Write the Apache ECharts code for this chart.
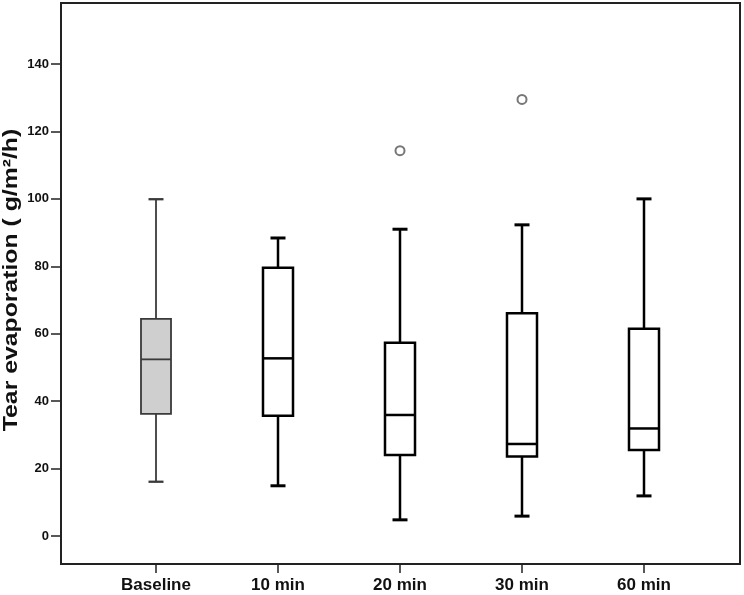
<!DOCTYPE html>
<html>
<head>
<meta charset="utf-8">
<script src="https://cdn.jsdelivr.net/npm/echarts@6/dist/echarts.min.js"></script>
<style>
html,body{margin:0;padding:0;background:#fff;}
#chart{width:744px;height:595px;}
</style>
</head>
<body>
<div id="chart"></div>
<script>
const categories = ['Baseline', '10 min', '20 min', '30 min', '60 min'];
const whiskerLow = [16.1, 14.9, 4.8, 5.9, 11.9];
const q1 = [36.2, 35.7, 24.0, 23.6, 25.5];
const median = [52.4, 52.7, 35.9, 27.3, 31.9];
const q3 = [64.4, 79.6, 57.3, 66.1, 61.5];
const whiskerHigh = [99.9, 88.4, 91.0, 92.3, 100.0];
const outlierCategory = ['20 min', '30 min'];
const outlierValue = [114.3, 129.5];
const yTicks = [0, 20, 40, 60, 80, 100, 120, 140];
const yTitle = 'Tear evaporation ( g/m\u00B2/h)';
const yMin = -8.3, yMax = 158.1;

const boxData = categories.map((c, i) => [i, whiskerLow[i], q1[i], median[i], q3[i], whiskerHigh[i]]);
const outlierData = outlierCategory.map((c, i) => [categories.indexOf(c), outlierValue[i]]);

function renderBox(params, api) {
  const x = api.value(0);
  const band = api.size([1, 0])[0];
  const bw = band * 0.246, cw = band * 0.123;
  const pLow = api.coord([x, api.value(1)]);
  const pQ1 = api.coord([x, api.value(2)]);
  const pMed = api.coord([x, api.value(3)]);
  const pQ3 = api.coord([x, api.value(4)]);
  const pHigh = api.coord([x, api.value(5)]);
  const cx = pMed[0];
  const isBase = params.dataIndex === 0;
  const stroke = isBase ? '#3a3a3a' : '#000';
  const lw = isBase ? 1.8 : 2.5;
  const ls = { stroke: stroke, lineWidth: lw };
  return {
    type: 'group',
    children: [
      { type: 'line', shape: { x1: cx, y1: pLow[1], x2: cx, y2: pQ1[1] }, style: ls },
      { type: 'line', shape: { x1: cx, y1: pQ3[1], x2: cx, y2: pHigh[1] }, style: ls },
      { type: 'line', shape: { x1: cx - cw / 2, y1: pLow[1], x2: cx + cw / 2, y2: pLow[1] }, style: { stroke: stroke, lineWidth: lw + 0.5 } },
      { type: 'line', shape: { x1: cx - cw / 2, y1: pHigh[1], x2: cx + cw / 2, y2: pHigh[1] }, style: { stroke: stroke, lineWidth: lw + 0.5 } },
      { type: 'rect', shape: { x: cx - bw / 2, y: pQ3[1], width: bw, height: pQ1[1] - pQ3[1] },
        style: { fill: isBase ? '#cfcfcf' : '#fff', stroke: stroke, lineWidth: lw } },
      { type: 'line', shape: { x1: cx - bw / 2, y1: pMed[1], x2: cx + bw / 2, y2: pMed[1] }, style: ls }
    ]
  };
}

const chart = echarts.init(document.getElementById('chart'), null, { renderer: 'canvas' });
chart.setOption({
  animation: false,
  backgroundColor: '#fff',
  grid: [
    { left: 61, right: 4, top: 3, bottom: 31, outerBoundsMode: 'none', containLabel: false,
      show: true, borderColor: '#222', borderWidth: 2, backgroundColor: 'transparent' },
    { left: 95, right: 39, top: 3, bottom: 31, outerBoundsMode: 'none', containLabel: false }
  ],
  xAxis: [
    { gridIndex: 0, type: 'value', show: false, min: 0, max: 1 },
    { gridIndex: 1, type: 'category', data: categories, position: 'bottom',
      axisLine: { show: false, onZero: false },
      axisTick: { show: true, alignWithLabel: true, length: 9, lineStyle: { color: '#222', width: 1.5 } },
      axisLabel: { margin: 13, fontFamily: 'Liberation Sans', fontWeight: 'bold', fontSize: 17, color: '#111' },
      splitLine: { show: false } }
  ],
  yAxis: [
    { gridIndex: 0, type: 'value', min: yMin, max: yMax,
      axisLine: { show: false, onZero: false },
      axisTick: { show: true, length: 10, customValues: yTicks, lineStyle: { color: '#222', width: 1.5 } },
      axisLabel: { margin: 12, customValues: yTicks, fontFamily: 'Liberation Sans', fontWeight: 'bold', fontSize: 13, color: '#111' },
      splitLine: { show: false } },
    { gridIndex: 1, type: 'value', min: yMin, max: yMax, show: false, splitLine: { show: false } }
  ],
  graphic: [
    { type: 'text', x: 11, y: 280, rotation: Math.PI / 2, scaleX: 1.18,
      style: { text: yTitle, fontFamily: 'Liberation Sans', fontWeight: 'bold', fontSize: 21, fill: '#111',
               align: 'center', verticalAlign: 'middle' } }
  ],
  series: [
    { type: 'custom', xAxisIndex: 1, yAxisIndex: 1, data: boxData, renderItem: renderBox,
      encode: { x: 0, y: [1, 2, 3, 4, 5] } },
    { type: 'scatter', xAxisIndex: 1, yAxisIndex: 1, data: outlierData, symbol: 'emptyCircle', symbolSize: 9,
      z: 5, itemStyle: { color: '#555', borderColor: '#555', borderWidth: 1.5 } }
  ]
});
</script>
</body>
</html>
